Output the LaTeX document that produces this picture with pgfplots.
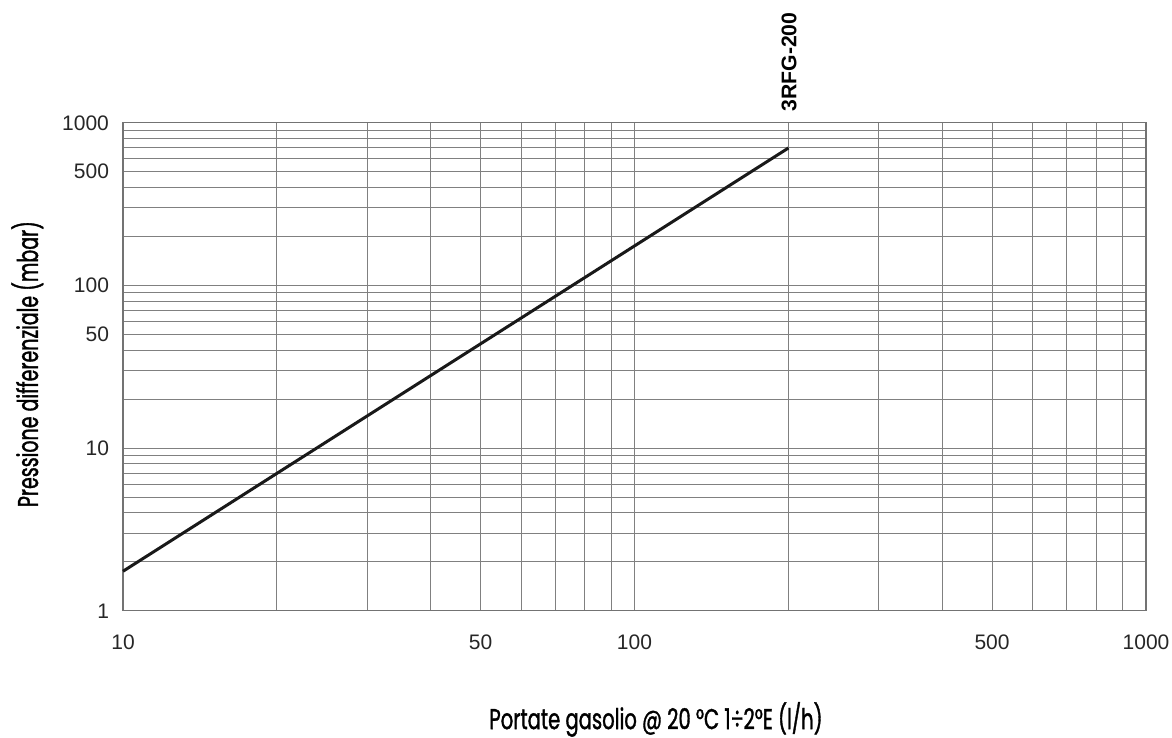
\documentclass[border=0pt]{standalone}
\usepackage{fontspec}
\setmainfont{Liberation Sans}
\newfontfamily\xlabelfont[FakeStretch=0.685, FakeBold=1.2]{Poppins}
\newfontfamily\ylabelfont[FakeStretch=0.665, FakeBold=1.2]{Poppins}
\usepackage{pgfplots}
\pgfplotsset{compat=1.18}
\begin{document}
\begin{tikzpicture}
\path[use as bounding box] (-61.5pt,-63.15pt) rectangle (524.5pt,305.4pt);
\begin{axis}[
  xmode=log, ymode=log,
  scale only axis,
  width=511.5pt, height=244pt,
  xmin=10, xmax=1000, ymin=1, ymax=1000,
  xtick={10,20,30,40,50,60,70,80,90,100,200,300,400,500,600,700,800,900,1000},
  xticklabels={10,,,,50,,,,,100,,,,500,,,,,1000},
  ytick={1,2,3,4,5,6,7,8,9,10,20,30,40,50,60,70,80,90,100,200,300,400,500,600,700,800,900,1000},
  yticklabels={1,,,,,,,,,10,,,,50,,,,,100,,,,500,,,,,1000},
  major tick length=0pt,
  minor tick num=0,
  grid=major,
  major grid style={line width=0.5pt, black!50},
  axis line style={line width=0.6pt, black!55},
  tick label style={font=\fontsize{10.5}{12}\selectfont, text=black!85},
  /pgf/number format/assume math mode=true,
  xticklabel style={anchor=north, yshift=-8.5pt},
  yticklabel style={anchor=east, xshift=-3.5pt},
  xlabel={\xlabelfont Portate gasolio @ 20 °C 1÷2°E (l/h)},
  ylabel={\ylabelfont Pressione differenziale (mbar)},
  xlabel style={at={(axis description cs:0.521,-0.2424)}, anchor=base, font=\fontsize{14.3}{16}\selectfont},
  ylabel style={at={(axis description cs:-0.0831,0.5055)}, anchor=base, rotate=0, font=\fontsize{14.3}{16}\selectfont},
  clip=false,
]
\addplot[line width=1.5pt, color=black!90] coordinates {(10,1.75) (100,175) (200,700)};
\end{axis}
\node[rotate=90, anchor=west, font=\bfseries\fontsize{10.6}{12}\selectfont, inner sep=0pt] at (333pt,249.5pt) {3RFG-200};
\end{tikzpicture}
\end{document}
